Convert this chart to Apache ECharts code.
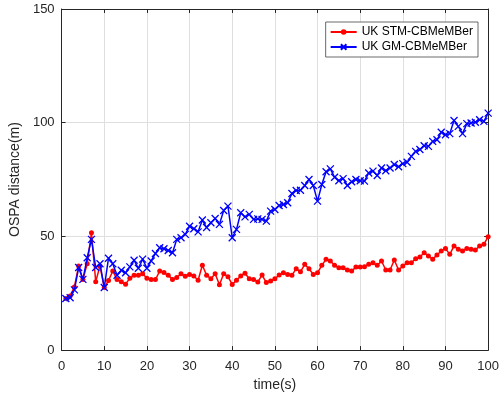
<!DOCTYPE html>
<html><head><meta charset="utf-8">
<script src="https://cdn.jsdelivr.net/npm/echarts@6/dist/echarts.min.js"></script>
<style>html,body{margin:0;padding:0;background:#fff}#c{width:502px;height:397px}</style>
</head><body><div id="c"></div>
<script>
const time = Array.from({length:100},(_,i)=>i+1);
const stmValues = [22.7,23.8,27.8,37,31.1,38,51.6,30.1,37,27.5,
30.6,34.8,31,30.1,29,31.6,32.9,32.9,33.6,31.6,
31,31,34.8,34.1,32.9,31.1,31.9,33.6,32.5,33.3,
32.6,30.7,37.3,32.9,31.4,33.6,28.7,33.6,32.3,28.9,
30.7,32.6,33.8,31.4,31.1,30,33,29.7,30.4,31.4,
33,34,33.3,32.9,35.8,34.4,37.7,35.8,33.3,34,
37.3,39.9,39.2,37.3,36.2,36.2,35.2,34.8,36.5,36.5,
36.7,37.7,38.4,37.3,39.2,35.2,35.2,39.6,35.2,37,
38.4,38.4,40.2,40.9,42.8,41.4,40,41.8,43.6,44.7,
42.1,45.8,44.3,43.6,44.7,44.3,44,45.8,46.5,49.9];
const gmValues = [22.7,23,26.5,36.3,31.1,40.6,48.7,36.3,38,27.5,
40.4,38,32.9,35.1,34,36.6,39.5,36,40,36,
39.2,42.5,45,44.6,43.8,42.8,48.7,49.4,50.9,54.5,
53.4,52,57.2,53.9,56,57.9,55.3,61.4,63.3,49.4,
53.1,60.4,58.6,59.7,57.5,57.7,57.5,56.7,61.1,61.8,
63.6,64,64.8,68.9,70.2,70.3,72.4,75,72.4,65.5,
72.8,78.4,79.7,76,74.5,75.4,72.4,74,75,74.5,
74.3,77.9,78.7,76.8,80.1,78.9,80.1,81.6,80.6,82,
82.6,85.2,87.4,88.2,89.9,89.6,91.8,92.5,95.8,94.7,
95.2,101,98.4,95.2,99.6,99.9,100.2,101.3,100.6,104.2];
const seriesNames = ['UK STM-CBMeMBer','UK GM-CBMeMBer'];
const xLabel = 'time(s)', yLabel = 'OSPA distance(m)';

const chart = echarts.init(document.getElementById('c'));
const font = 'Liberation Sans, Arial, sans-serif';
const axCol = '#262626';
function xa(pos, show){
  return {type:'value', min:0, max:100, interval:10, position:pos,
    axisLine:{show:true, onZero:false, lineStyle:{color:axCol, width:1}},
    axisTick:{show:true, inside:true, length:4, lineStyle:{color:axCol}},
    axisLabel:{show:show, color:axCol, fontFamily:font, fontSize:13, margin:10},
    splitLine:{show:show, lineStyle:{color:'#dfdfdf', width:1}},
    name: show? xLabel:'', nameLocation:'middle', nameGap:26,
    nameTextStyle:{color:axCol, fontFamily:font, fontSize:14}};
}
function ya(pos, show){
  return {type:'value', min:0, max:150, interval:50, position:pos,
    axisLine:{show:true, onZero:false, lineStyle:{color:axCol, width:1}},
    axisTick:{show:true, inside:true, length:4, lineStyle:{color:axCol}},
    axisLabel:{show:show, color:axCol, fontFamily:font, fontSize:13, margin:7},
    splitLine:{show:show, lineStyle:{color:'#dfdfdf', width:1}},
    name: show? yLabel:'', nameLocation:'middle', nameGap:29,
    nameTextStyle:{color:axCol, fontFamily:font, fontSize:14}};
}
chart.setOption({
  animation:false,
  backgroundColor:'#fff',
  grid:{left:57, right:11, top:9, bottom:46},
  xAxis:[xa('bottom',true), xa('top',false)],
  yAxis:[ya('left',true), ya('right',false)],
  legend:{right:24, top:22, orient:'vertical', itemGap:3, itemWidth:26, itemHeight:7,
    padding:[4,5,4,4], borderColor:'#444', borderWidth:0.8, backgroundColor:'#fff',
    textStyle:{fontFamily:font, fontSize:12, color:'#000'},
    data: seriesNames},
  series:[
    {name:seriesNames[0], type:'line', data:time.map((t,i)=>[t,stmValues[i]]),
     symbol:'circle', symbolSize:5, showAllSymbol:true,
     lineStyle:{color:'#ff0000', width:1.5}, itemStyle:{color:'#ff0000'}, z:3},
    {name:seriesNames[1], type:'line', data:time.map((t,i)=>[t,gmValues[i]]),
     symbol:'path://M0,0L10,10M10,0L0,10', symbolSize:7, showAllSymbol:true,
     lineStyle:{color:'#0000ff', width:1.5},
     itemStyle:{color:'#0000ff', borderColor:'#0000ff', borderWidth:1.3}, z:4}
  ]
});
</script></body></html>
